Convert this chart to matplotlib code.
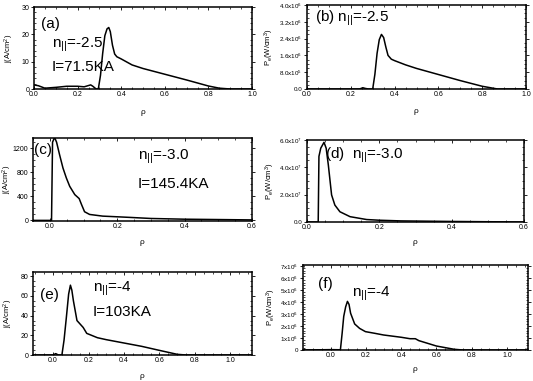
import matplotlib
matplotlib.use('Agg')
import matplotlib.pyplot as plt
from matplotlib.transforms import blended_transform_factory

plt.rcParams['font.family'] = ['Liberation Sans', 'DejaVu Sans']
plt.rcParams['mathtext.fontset'] = 'custom'
plt.rcParams['mathtext.rm'] = 'Liberation Sans'
plt.rcParams['mathtext.it'] = 'Liberation Sans'

# (a) current density, n_par = -2.5
a_rho = [0.0, 0.02, 0.05, 0.1, 0.15, 0.2, 0.23, 0.26, 0.27, 0.285, 0.295,
         0.305, 0.315, 0.325, 0.335, 0.343, 0.35, 0.36, 0.37, 0.38, 0.4,
         0.45, 0.5, 0.6, 0.7, 0.8, 0.85, 0.9, 1.0]
a_j = [1.5, 1.2, 0.3, 0.6, 1.0, 1.0, 0.8, 1.5, 1.0, 0.0, 0.0,
       5.0, 13.0, 19.5, 22.0, 22.5, 21.0, 16.0, 12.8, 11.8, 11.0,
       8.8, 7.5, 5.4, 3.3, 1.1, 0.3, 0.0, 0.0]

# (b) power density, n_par = -2.5
b_rho = [0.0, 0.24, 0.255, 0.265, 0.28, 0.3, 0.31, 0.32, 0.33, 0.34,
         0.35, 0.36, 0.37, 0.385, 0.4, 0.45, 0.5, 0.6, 0.7, 0.8, 0.87, 1.0]
b_p = [0.0, 0.0, 0.06e6, 0.03e6, 0.0, 0.0, 0.7e6, 1.7e6, 2.35e6, 2.6e6,
       2.45e6, 2.0e6, 1.6e6, 1.42e6, 1.35e6, 1.15e6, 0.98e6, 0.69e6,
       0.4e6, 0.13e6, 0.0, 0.0]

# (c) current density, n_par = -3.0
c_rho = [-0.05, 0.005, 0.008, 0.014, 0.02, 0.029, 0.039, 0.049, 0.059,
         0.074, 0.087, 0.094, 0.103, 0.118, 0.157, 0.2, 0.237, 0.3, 0.4, 0.6]
c_j = [0.0, 0.0, 1300.0, 1380.0, 1300.0, 1089.0, 870.0, 705.0, 566.0,
       429.0, 363.0, 264.0, 144.0, 99.0, 71.0, 60.0, 50.0, 32.0, 20.0, 8.0]

# (d) power density, n_par = -3.0
d_rho = [0.0, 0.031, 0.033, 0.038, 0.047, 0.053, 0.059, 0.064, 0.068,
         0.077, 0.091, 0.119, 0.165, 0.2, 0.26, 0.4, 0.6]
d_p = [0.0, 0.0, 4.8e7, 5.4e7, 5.83e7, 5.4e7, 4.17e7, 2.95e7, 1.98e7,
       1.24e7, 0.75e7, 0.39e7, 0.18e7, 0.13e7, 0.08e7, 0.04e7, 0.0]

# (e) current density, n_par = -4
e_rho = [-0.11, 0.0, 0.015, 0.03, 0.05, 0.062, 0.075, 0.088, 0.098, 0.106,
         0.115, 0.135, 0.17, 0.19, 0.25, 0.3, 0.4, 0.5, 0.6, 0.7, 0.75, 1.12]
e_j = [0.0, 0.0, 1.4, 0.0, 0.0, 15.0, 38.0, 62.0, 71.0, 66.0,
       55.0, 35.0, 28.0, 22.0, 17.6, 15.6, 12.2, 8.8, 4.7, 0.7, 0.0, 0.0]

# (f) power density, n_par = -4
f_rho = [-0.15, 0.0, 0.05, 0.055, 0.065, 0.074, 0.085, 0.095, 0.104, 0.113,
         0.136, 0.164, 0.197, 0.25, 0.3, 0.4, 0.45, 0.48, 0.5, 0.6, 0.7,
         0.75, 1.12]
f_p = [0.0, 0.03e6, 0.02e6, 0.0, 1.4e6, 2.8e6, 3.6e6, 4.05e6, 3.8e6, 3.06e6,
       2.17e6, 1.8e6, 1.53e6, 1.39e6, 1.25e6, 1.06e6, 0.94e6, 0.94e6,
       0.78e6, 0.33e6, 0.06e6, 0.0, 0.0]

W, H = 533, 381
fig = plt.figure(figsize=(W / 100, H / 100), dpi=100)


def box(left, top, right, bottom):
    return fig.add_axes([left / W, 1 - bottom / H, (right - left) / W, (bottom - top) / H])


def style(ax, xlim, ylim, xticks, yticks, ylabel, yfmt, ylab_x, xlab_y, ysize=5):
    ax.set_xlim(*xlim)
    ax.set_ylim(*ylim)
    ax.set_xticks(xticks)
    ax.set_xticklabels(['%.1f' % t for t in xticks])
    ax.set_yticks(yticks)
    ax.set_yticklabels([yfmt(t) for t in yticks])
    ax.minorticks_on()
    ax.tick_params(which='both', direction='in', top=True, right=True,
                   labelsize=5, pad=1.5)
    ax.tick_params(axis='y', labelsize=ysize, pad=1)
    ax.tick_params(which='major', length=2.5, width=0.6)
    ax.tick_params(which='minor', length=1.5, width=0.5)
    ax.tick_params(axis='y', which='major', direction='out')
    for s in ax.spines.values():
        s.set_linewidth(1.1)
    ax.set_xlabel(r'$\rho$', fontsize=6)
    ax.set_ylabel(ylabel, fontsize=5.5)
    ax.yaxis.set_label_coords(ylab_x / W, 0.5,
                              transform=blended_transform_factory(fig.transFigure, ax.transAxes))
    ax.xaxis.set_label_coords(0.5, 1 - xlab_y / H,
                              transform=blended_transform_factory(ax.transAxes, fig.transFigure))


def sci(t):
    if t == 0:
        return '0.0'
    exp = len(str(int(t))) - 1
    return r'%.1fx10$^{%d}$' % (t / 10 ** exp, exp)


def sci0(t):
    if t == 0:
        return '0'
    exp = len(str(int(t))) - 1
    return r'%dx10$^{%d}$' % (t / 10 ** exp, exp)


lw = 1.1
jlab = r'j(A/cm$^2$)'
plab = r'P$_e$(W/cm$^3$)'
npar = r'n$_{||}$'
big = 11

# (a)
ax = box(34, 7, 252, 89)
ax.plot(a_rho, a_j, color='black', linewidth=lw)
style(ax, (0, 1), (0, 30), [0, 0.2, 0.4, 0.6, 0.8, 1.0], [0, 10, 20, 30],
      jlab, lambda t: '%d' % t, 16, 108)
fig.text(41 / W, 1 - 24 / H, '(a)', fontsize=big, va='center')
fig.text(52 / W, 1 - 45 / H, npar + '=-2.5', fontsize=big, va='center')
fig.text(52 / W, 1 - 67 / H, 'I=71.5KA', fontsize=big, va='center')

# (b)
ax = box(307, 5, 526, 89)
ax.plot(b_rho, b_p, color='black', linewidth=lw)
style(ax, (0, 1), (0, 4e6), [0, 0.2, 0.4, 0.6, 0.8, 1.0],
      [0, 8e5, 1.6e6, 2.4e6, 3.2e6, 4e6], plab, sci, 276, 107, 4.5)
fig.text(315 / W, 1 - 18 / H, '(b) ' + npar + '=-2.5', fontsize=big, va='center')

# (c)
ax = box(33, 138, 252, 221)
ax.plot(c_rho, c_j, color='black', linewidth=lw)
style(ax, (-0.05, 0.6), (-10, 1370), [0, 0.2, 0.4, 0.6], [0, 400, 800, 1200],
      jlab, lambda t: '%d' % t, 14, 238)
fig.text(34 / W, 1 - 150 / H, '(c)', fontsize=big, va='center')
fig.text(138 / W, 1 - 157 / H, npar + '=-3.0', fontsize=big, va='center')
fig.text(138 / W, 1 - 184 / H, 'I=145.4KA', fontsize=big, va='center')

# (d)
ax = box(307, 140, 524, 222)
ax.plot(d_rho, d_p, color='black', linewidth=lw)
style(ax, (0, 0.6), (0, 6e7), [0, 0.2, 0.4, 0.6], [0, 2e7, 4e7, 6e7], plab, sci,
      277, 238, 4.5)
fig.text(325 / W, 1 - 155 / H, '(d)  ' + npar + '=-3.0', fontsize=big, va='center')

# (e)
ax = box(33, 272, 252, 355)
ax.plot(e_rho, e_j, color='black', linewidth=lw)
style(ax, (-0.113, 1.122), (0, 84.4), [0, 0.2, 0.4, 0.6, 0.8, 1.0],
      [0, 20, 40, 60, 80], jlab, lambda t: '%d' % t, 15, 372)
fig.text(40 / W, 1 - 295 / H, '(e)', fontsize=big, va='center')
fig.text(93 / W, 1 - 289 / H, npar + '=-4', fontsize=big, va='center')
fig.text(93 / W, 1 - 312 / H, 'I=103KA', fontsize=big, va='center')

# (f)
ax = box(303, 265, 528, 350)
ax.plot(f_rho, f_p, color='black', linewidth=lw)
style(ax, (-0.157, 1.119), (0, 7.08e6), [0, 0.2, 0.4, 0.6, 0.8, 1.0],
      [0, 1e6, 2e6, 3e6, 4e6, 5e6, 6e6, 7e6], plab, sci0, 278, 365, 4.5)
fig.text(318 / W, 1 - 284 / H, '(f)', fontsize=big, va='center')
fig.text(352 / W, 1 - 294 / H, npar + '=-4', fontsize=big, va='center')

fig.savefig('out.png', dpi=100)
